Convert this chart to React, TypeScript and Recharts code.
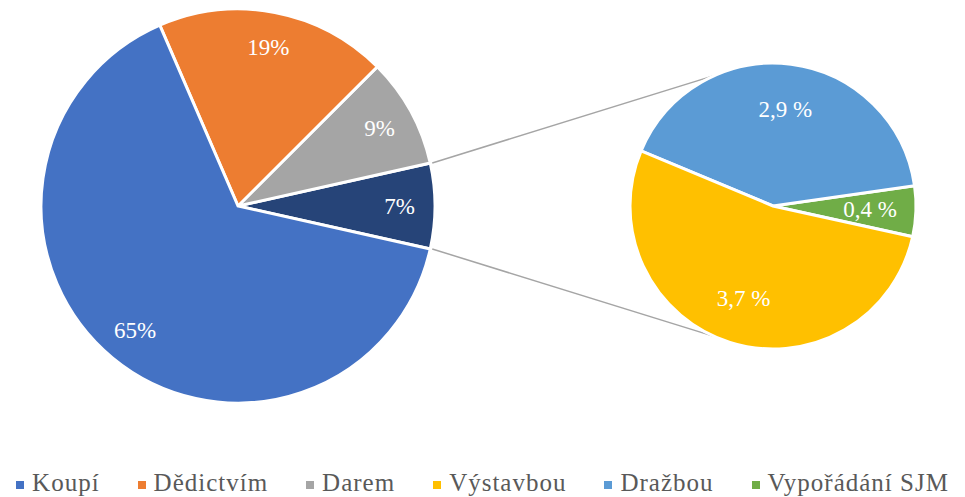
import React from 'react'
import { PieChart, Pie, Cell, Legend, Customized } from 'recharts'

// main pie (counter-clockwise from 3 o'clock, split slice first)
const mainNames = ['Ostatní', 'Darem', 'Dědictvím', 'Koupí']
const mainValues = [7, 9, 19, 65]
const mainColors = ['#264478', '#A5A5A5', '#ED7D31', '#4472C4']

// secondary pie = breakdown of the 7 %
const subNames = ['Vypořádání SJM', 'Dražbou', 'Výstavbou']
const subValues = [0.4, 2.9, 3.7]
const subColors = ['#70AD47', '#5B9BD5', '#FFC000']

const legendNames = ['Koupí', 'Dědictvím', 'Darem', 'Výstavbou', 'Dražbou', 'Vypořádání SJM']
const legendColors = ['#4472C4', '#ED7D31', '#A5A5A5', '#FFC000', '#5B9BD5', '#70AD47']

const W = 965
const H = 497
const FONT = 'Liberation Serif, DejaVu Serif, Times, serif'

const MAIN = { cx: 238, cy: 206, r: 197 }
const SUB = { cx: 773, cy: 206, r: 143 }
const SUB_START = -12.4
const CONNECT_ANGLE = 114

const mainData = mainNames.map((name, i) => ({ name, value: mainValues[i] }))
const subData = subNames.map((name, i) => ({ name, value: subValues[i] }))

const mainTotal = mainValues.reduce((a, b) => a + b, 0)
const splitHalf = (mainValues[0] / mainTotal) * 180
const MAIN_START = -splitHalf

const RAD = Math.PI / 180

const makeLabel = (ratio: number, fmt: (v: number) => string) => (props: any) => {
  const { cx, cy, midAngle, outerRadius, value } = props
  const r = outerRadius * ratio
  const x = cx + r * Math.cos(-midAngle * RAD)
  const y = cy + r * Math.sin(-midAngle * RAD)
  return (
    <text
      x={x}
      y={y}
      fill="#fff"
      textAnchor="middle"
      dominantBaseline="central"
      style={{ fontFamily: FONT, fontSize: 23 }}
    >
      {fmt(value)}
    </text>
  )
}

const Connectors = () => {
  const p = (c: typeof MAIN, deg: number) => ({
    x: c.cx + c.r * Math.cos(deg * RAD),
    y: c.cy - c.r * Math.sin(deg * RAD),
  })
  const a1 = p(MAIN, splitHalf)
  const a2 = p(MAIN, -splitHalf)
  const b1 = p(SUB, CONNECT_ANGLE)
  const b2 = p(SUB, -CONNECT_ANGLE)
  return (
    <g>
      <line x1={a1.x + 2} y1={a1.y} x2={b1.x} y2={b1.y} stroke="#A5A5A5" strokeWidth={1.5} />
      <line x1={a2.x + 2} y1={a2.y} x2={b2.x} y2={b2.y} stroke="#A5A5A5" strokeWidth={1.5} />
    </g>
  )
}

const LegendContent = () => (
  <div
    style={{
      display: 'flex',
      justifyContent: 'center',
      gap: 38,
      fontFamily: FONT,
      fontSize: 25,
      letterSpacing: 1,
      color: '#595959',
      whiteSpace: 'nowrap',
    }}
  >
    {legendNames.map((n, i) => (
      <span key={n} style={{ display: 'flex', alignItems: 'center' }}>
        <span
          style={{
            display: 'inline-block',
            width: 8,
            height: 8,
            background: legendColors[i],
            marginRight: 8,
            marginTop: 4,
          }}
        />
        {n}
      </span>
    ))}
  </div>
)

export default function App() {
  return (
    <div style={{ position: 'absolute', left: 0, top: 0, width: W, height: H, background: '#fff', fontFamily: FONT }}>
      <PieChart width={W} height={H} margin={{ top: 0, right: 0, bottom: 0, left: 0 }}>
        <Customized component={<Connectors />} />
        <Pie
          data={mainData}
          dataKey="value"
          cx={MAIN.cx}
          cy={MAIN.cy}
          outerRadius={MAIN.r}
          startAngle={MAIN_START}
          endAngle={MAIN_START + 360}
          stroke="#fff"
          strokeWidth={3}
          labelLine={false}
          label={makeLabel(0.82, (v) => `${v}%`)}
          isAnimationActive={false}
        >
          {mainData.map((d, i) => (
            <Cell key={d.name} fill={mainColors[i]} />
          ))}
        </Pie>
        <Pie
          data={subData}
          dataKey="value"
          cx={SUB.cx}
          cy={SUB.cy}
          outerRadius={SUB.r}
          startAngle={SUB_START}
          endAngle={SUB_START + 360}
          stroke="#fff"
          strokeWidth={3}
          labelLine={false}
          label={makeLabel(0.68, (v) => `${String(v).replace('.', ',')} %`)}
          isAnimationActive={false}
        >
          {subData.map((d, i) => (
            <Cell key={d.name} fill={subColors[i]} />
          ))}
        </Pie>
        <Legend
          content={<LegendContent />}
          wrapperStyle={{ left: 0, top: 469, width: W }}
        />
      </PieChart>
    </div>
  )
}
